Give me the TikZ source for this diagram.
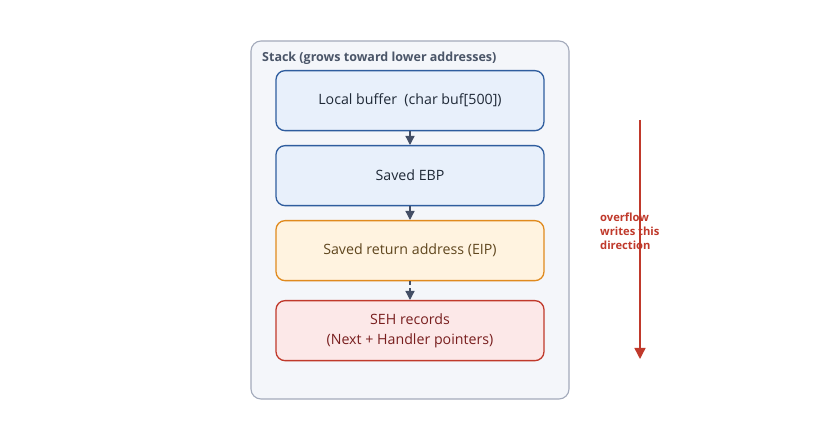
\documentclass[tikz,border=0pt]{standalone}
\usepackage{fontspec}
\setmainfont{Open Sans}
\usetikzlibrary{arrows.meta}
\definecolor{contfill}{HTML}{F4F6FA}
\definecolor{contdraw}{HTML}{A3AABB}
\definecolor{titlecol}{HTML}{4A5568}
\definecolor{bluefill}{HTML}{E8F0FB}
\definecolor{bluedraw}{HTML}{2F5D9E}
\definecolor{orgfill}{HTML}{FFF3E0}
\definecolor{orgdraw}{HTML}{E08A1E}
\definecolor{redfill}{HTML}{FCE8E8}
\definecolor{reddraw}{HTML}{C0392B}
\definecolor{arrcol}{HTML}{444F66}
\definecolor{txtdark}{HTML}{1F2937}
\begin{document}
\begin{tikzpicture}[x=1pt,y=-1pt,
  cont/.style={draw=contdraw,fill=contfill,line width=1.1pt,rounded corners=10pt},
  stackbox/.style={rounded corners=9pt,line width=1.3pt,minimum width=268pt,minimum height=60pt,align=center,font=\fontsize{14.2}{17}\selectfont,anchor=north},
  bluebox/.style={stackbox,draw=bluedraw,fill=bluefill,text=txtdark},
  orgbox/.style={stackbox,draw=orgdraw,fill=orgfill,text={rgb,255:red,95;green,70;blue,30}},
  redbox/.style={stackbox,draw=reddraw,fill=redfill,text={rgb,255:red,120;green,30;blue,30}},
  conn/.style={draw=arrcol,line width=1.3pt,-{Triangle[length=9pt,width=9pt]}},
]
\useasboundingbox (0,0) rectangle (820,430);
\fill[white] (0,0) rectangle (820,430);
\draw[cont] (251,41) rectangle (569,399);
\node[anchor=west,font=\bfseries\fontsize{12.5}{15}\selectfont,text=titlecol,inner sep=0pt] (title) at (262,58) {Stack (grows toward lower addresses)};
\node[bluebox] (buf) at (410,70) {Local buffer\ \ (char buf[500])};
\node[bluebox] (ebp) at (410,145) {Saved EBP};
\node[orgbox] (eip) at (410,220) {Saved return address (EIP)};
\node[redbox,font=\fontsize{14.2}{19.5}\selectfont] (seh) at (410,300) {SEH records\\(Next + Handler pointers)};
\draw[conn] (buf.south) -- (ebp.north);
\draw[conn] (ebp.south) -- (eip.north);
\draw[conn,dash pattern=on 4pt off 3pt] (eip.south) -- (seh.north);
\coordinate (ovtop) at (640,120);
\coordinate (ovbot) at (640,359);
\draw[draw=reddraw,line width=1.4pt,-{Triangle[length=11pt,width=11pt]}] (ovtop) -- (ovbot);
\node[anchor=north west,align=left,font=\bfseries\fontsize{11.2}{14}\selectfont,text=reddraw,inner sep=0pt] (ovtext) at (600,213) {overflow\\writes this\\direction};
\end{tikzpicture}
\end{document}
